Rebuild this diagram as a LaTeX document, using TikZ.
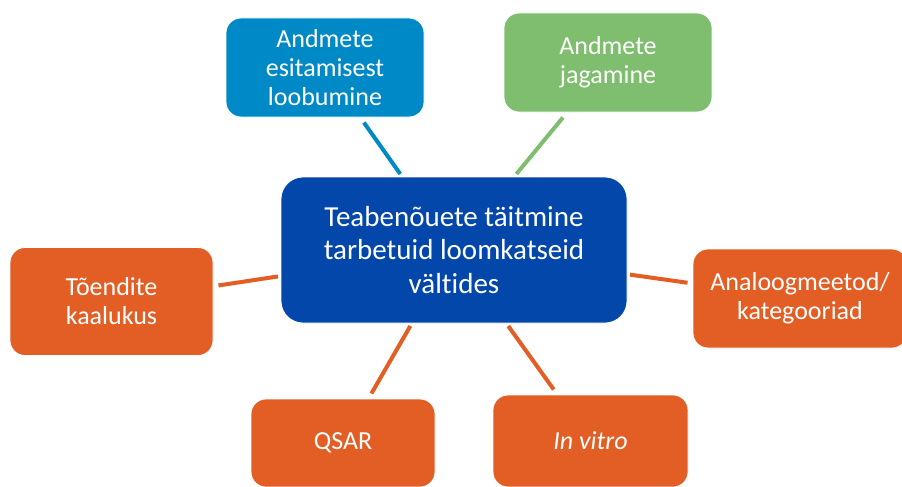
\documentclass[tikz,border=0pt]{standalone}
\usepackage{fontspec}
\setmainfont{Carlito}[Ligatures=NoCommon]
\definecolor{cblue}{RGB}{3,71,171}
\definecolor{lblue}{RGB}{0,137,199}
\definecolor{cgreen}{RGB}{126,190,110}
\definecolor{corange}{RGB}{227,94,36}
\tikzset{
  box/.style={rounded corners=15pt, draw=white, line width=0.8pt, text=white, align=center, inner sep=0pt, outer sep=5.5pt,
    font=\fontsize{26}{29}\selectfont},
  mainbox/.style={box, fill=cblue, rounded corners=22pt, outer sep=3pt, font=\fontsize{29}{33.5}\selectfont},
  conn/.style={line width=4pt}
}
\begin{document}
\begin{tikzpicture}[x=1pt,y=-1pt]
\useasboundingbox (0,0) rectangle (902,487);
\clip (0,0) rectangle (902,487);
\node[mainbox, minimum width=346pt, minimum height=146pt] (c) at (454,250) {Teabenõuete täitmine\\tarbetuid loomkatseid\\vältides};
\node[box, fill=lblue, minimum width=198pt, minimum height=99pt] (tl) at (325,67.5) {Andmete\\esitamisest\\loobumine};
\node[box, fill=cgreen, minimum width=208pt, minimum height=99pt] (tr) at (608,62.5) {Andmete\\jagamine};
\node[box, fill=corange, minimum width=203pt, minimum height=108pt] (l) at (111.5,301.5) {Tõendite\\kaalukus};
\node[box, fill=corange, minimum width=214pt, minimum height=99pt] (r) at (800,298.5) {Analoogmeetod/\\kategooriad};
\node[box, fill=corange, minimum width=184pt, minimum height=88pt] (q) at (343,443) {QSAR};
\node[box, fill=corange, minimum width=195pt, minimum height=92pt] (v) at (590.5,441) {\itshape In vitro};
\draw[conn, lblue] (c) -- (tl);
\draw[conn, cgreen] (c) -- (tr);
\draw[conn, corange] (c) -- (l);
\draw[conn, corange] (c) -- (r);
\draw[conn, corange] (c) -- (q);
\draw[conn, corange] (c) -- (v);
\end{tikzpicture}
\end{document}
